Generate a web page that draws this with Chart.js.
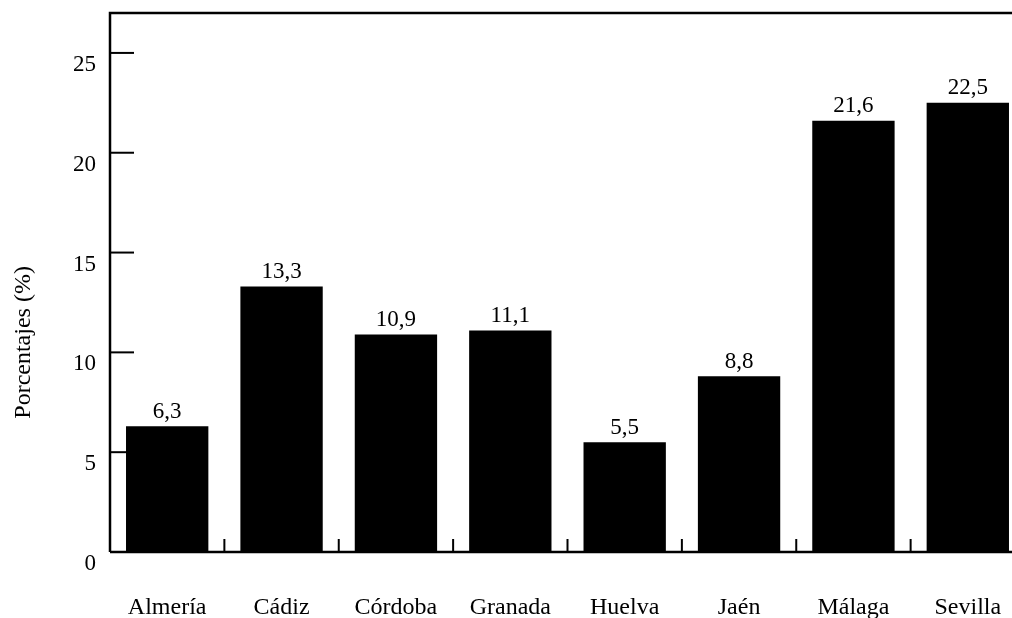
<!DOCTYPE html>
<html>
<head>
<meta charset="utf-8">
<script src="https://cdn.jsdelivr.net/npm/chart.js@4"></script>
<style>
  html, body { margin: 0; padding: 0; background: #fff; overflow: hidden; }
  canvas { display: block; }
</style>
</head>
<body>
<canvas id="chart" width="1030" height="618"></canvas>
<script>
const provincias = ['Almería', 'Cádiz', 'Córdoba', 'Granada', 'Huelva', 'Jaén', 'Málaga', 'Sevilla'];
const porcentajes = [6.3, 13.3, 10.9, 11.1, 5.5, 8.8, 21.6, 22.5];
const yTicks = [0, 5, 10, 15, 20, 25];
const yTitle = 'Porcentajes (%)';

const SERIF = "'Liberation Serif', 'Times New Roman', serif";

// frame, inward tick marks, axis title and value labels
const framePlugin = {
    id: 'frame',
    afterDraw(chart) {
        const ctx = chart.ctx;
        const area = chart.chartArea;
        const x = chart.scales.x;
        const y = chart.scales.y;
        ctx.save();
        ctx.strokeStyle = '#000';
        ctx.lineWidth = 2.5;
        ctx.beginPath();
        ctx.moveTo(area.left, area.bottom);
        ctx.lineTo(area.left, area.top);
        ctx.lineTo(area.right, area.top);
        ctx.moveTo(area.left, area.bottom);
        ctx.lineTo(area.right, area.bottom);
        ctx.stroke();

        // y ticks pointing into the plot
        ctx.lineWidth = 2;
        yTicks.forEach(v => {
            if (v === 0) return;
            const py = y.getPixelForValue(v);
            ctx.beginPath();
            ctx.moveTo(area.left, py);
            ctx.lineTo(area.left + 24, py);
            ctx.stroke();
        });

        // x ticks between categories, pointing up
        for (let i = 1; i < provincias.length; i++) {
            const px = (x.getPixelForTick(i - 1) + x.getPixelForTick(i)) / 2;
            ctx.beginPath();
            ctx.moveTo(px, area.bottom);
            ctx.lineTo(px, area.bottom - 13);
            ctx.stroke();
        }

        ctx.fillStyle = '#000';

        // y title, sits a bit below the middle in the original
        ctx.save();
        ctx.translate(24, y.getPixelForValue(10.5));
        ctx.rotate(-Math.PI / 2);
        ctx.font = '24px ' + SERIF;
        ctx.textAlign = 'center';
        ctx.textBaseline = 'middle';
        ctx.fillText(yTitle, 0, 0);
        ctx.restore();

        // values above bars
        ctx.font = '23px ' + SERIF;
        ctx.textAlign = 'center';
        ctx.textBaseline = 'bottom';
        chart.getDatasetMeta(0).data.forEach((bar, i) => {
            ctx.fillText(porcentajes[i].toFixed(1).replace('.', ','), bar.x, bar.y - 3);
        });
        ctx.restore();
    }
};

new Chart(document.getElementById('chart'), {
    type: 'bar',
    data: {
        labels: provincias,
        datasets: [{
            data: porcentajes,
            backgroundColor: '#000',
            borderWidth: 0,
            barPercentage: 0.72,
            categoryPercentage: 1
        }]
    },
    options: {
        responsive: false,
        animation: false,
        layout: { padding: { top: 13, right: 5, left: 0, bottom: 0 } },
        plugins: {
            legend: { display: false },
            tooltip: { enabled: false }
        },
        scales: {
            x: {
                grid: { display: false, drawTicks: false },
                border: { display: false },
                ticks: {
                    color: '#000',
                    padding: 41,
                    maxRotation: 0,
                    font: { family: SERIF, size: 24 }
                },
                afterFit(scale) {
                    scale.height = 66;
                    scale.paddingLeft = 0;
                    scale.paddingRight = 0;
                }
            },
            y: {
                min: 0,
                max: 27,
                afterBuildTicks(scale) {
                    scale.ticks = yTicks.map(v => ({ value: v }));
                },
                grid: { display: false, drawTicks: false },
                border: { display: false },
                ticks: {
                    color: '#000',
                    padding: 14,
                    labelOffset: 12,
                    font: { family: SERIF, size: 23 }
                },
                afterFit(scale) {
                    scale.width = 110;
                    scale.paddingTop = 0;
                    scale.paddingBottom = 0;
                }
            }
        }
    },
    plugins: [framePlugin]
});
</script>
</body>
</html>
